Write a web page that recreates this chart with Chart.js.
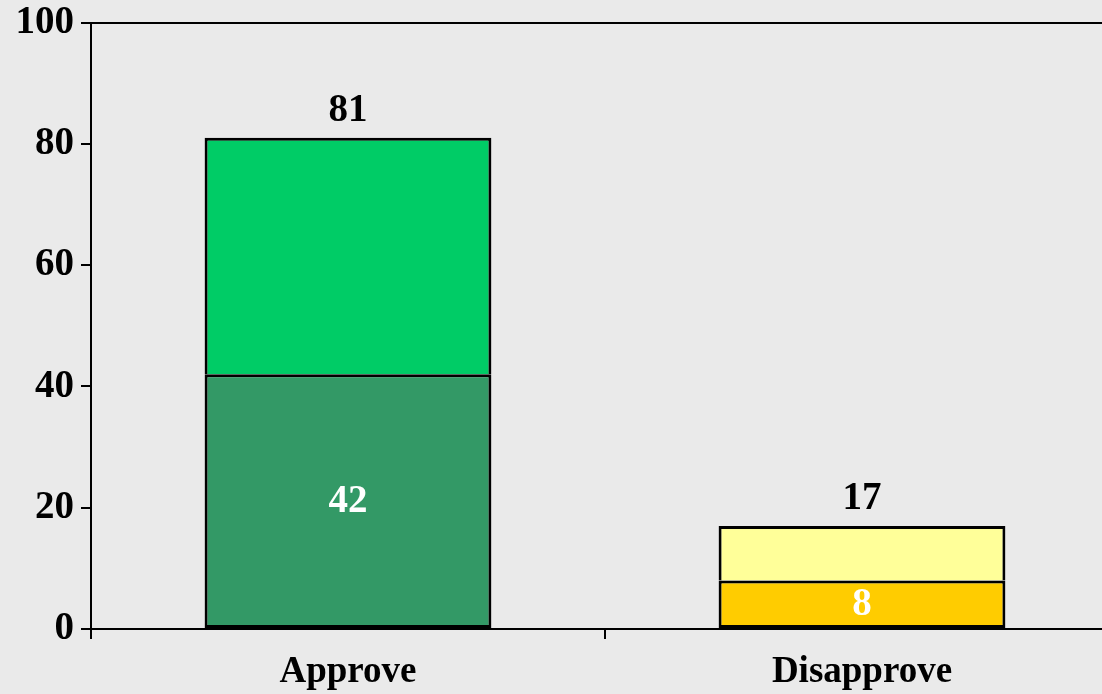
<!DOCTYPE html>
<html>
<head>
<meta charset="utf-8">
<script src="https://cdn.jsdelivr.net/npm/chart.js@4"></script>
<style>
html, body { margin:0; padding:0; overflow:hidden; background:#eaeaea; }
#wrap { width:1125px; height:694px; position:relative; }
</style>
</head>
<body>
<div id="wrap"><canvas id="c"></canvas></div>
<script>
const categories = ['Approve', 'Disapprove'];
const lowerValues = [42, 8];
const upperValues = [39, 9];
const totals = [81, 17];
const lowerColors = ['#339966', '#ffcc00'];
const upperColors = ['#00cc66', '#ffff99'];
const yTicks = [0, 20, 40, 60, 80, 100];

const FAMILY = "'Liberation Serif', 'Times New Roman', serif";

const labelPlugin = {
  id: 'barLabels',
  afterDatasetsDraw(chart) {
    const ctx = chart.ctx;
    ctx.save();
    ctx.font = 'bold 39px "Liberation Serif", "Times New Roman", serif';
    ctx.textAlign = 'center';
    ctx.textBaseline = 'middle';
    const lowerMeta = chart.getDatasetMeta(0);
    const upperMeta = chart.getDatasetMeta(1);
    lowerMeta.data.forEach((el, i) => {
      ctx.fillStyle = '#ffffff';
      ctx.fillText(String(lowerValues[i]), el.x, (el.y + el.base) / 2 + 1);
    });
    upperMeta.data.forEach((el, i) => {
      ctx.fillStyle = '#000000';
      ctx.fillText(String(totals[i]), el.x, el.y - 27);
    });
    ctx.restore();
  }
};

new Chart(document.getElementById('c'), {
  type: 'bar',
  data: {
    labels: categories,
    datasets: [
      { data: lowerValues, backgroundColor: lowerColors, borderColor: '#000', borderWidth: 3, borderSkipped: false, stack: 's' },
      { data: upperValues, backgroundColor: upperColors, borderColor: '#000', borderWidth: { top: 3, left: 3, right: 3, bottom: 0 }, borderSkipped: false, stack: 's' }
    ]
  },
  options: {
    responsive: true,
    maintainAspectRatio: false,
    devicePixelRatio: 1,
    animation: false,
    layout: { padding: { left: 0, right: 6, top: 0, bottom: 0 } },
    categoryPercentage: 1,
    barPercentage: 0.558,
    plugins: { legend: { display: false }, tooltip: { enabled: false } },
    scales: {
      x: {
        stacked: true,
        grid: { display: true, drawOnChartArea: false, drawTicks: true, tickLength: 10, color: '#000', lineWidth: 2, offset: true },
        border: { display: true, color: '#000', width: 2 },
        ticks: { color: '#000', font: { family: FAMILY, size: 37, weight: 'bold' }, padding: 11, maxRotation: 0 },
        afterFit(scale) { scale.height = 65; }
      },
      x2: {
        type: 'category',
        labels: categories,
        position: 'top',
        grid: { display: false },
        border: { display: true, color: '#000', width: 2 },
        ticks: { display: false },
        afterFit(scale) { scale.height = 22; }
      },
      y: {
        stacked: true,
        min: 0,
        max: 100,
        afterBuildTicks(scale) { scale.ticks = yTicks.map(v => ({ value: v })); },
        grid: { display: true, drawOnChartArea: false, drawTicks: true, tickLength: 10, color: '#000', lineWidth: 2 },
        border: { display: true, color: '#000', width: 2 },
        ticks: { color: '#000', font: { family: FAMILY, size: 39, weight: 'bold', lineHeight: 0.8 }, padding: 7 },
        afterFit(scale) { scale.width = 91; }
      }
    }
  },
  plugins: [labelPlugin]
});
</script>
</body>
</html>
